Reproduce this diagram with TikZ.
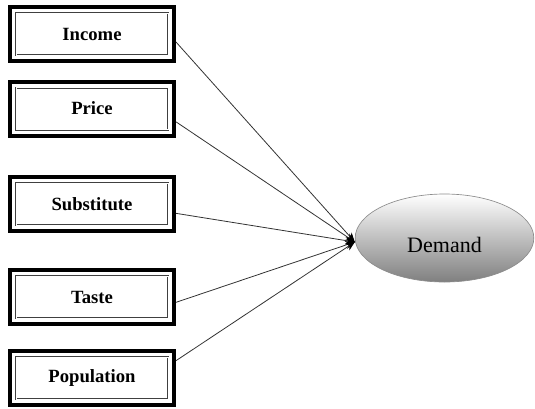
\documentclass[tikz,border=0pt]{standalone}
\usepackage{fontspec}
\setmainfont{Liberation Serif}
\usetikzlibrary{shapes.geometric,arrows.meta}
\tikzset{
  factor/.style={draw=black,line width=3pt,fill=white,minimum width=123pt,minimum height=40.5pt,inner sep=0pt,font=\fontsize{14}{16}\selectfont\bfseries,
    path picture={\draw[black!75,line width=0.45pt,double,double distance=0.6pt] ([shift={(4.5pt,-4.5pt)}]path picture bounding box.north west) rectangle ([shift={(-4.5pt,4.5pt)}]path picture bounding box.south east);}},
  outcome/.style={ellipse,draw=black!45,line width=0.5pt,top color=white,bottom color=black!50,minimum width=134pt,minimum height=66pt,inner sep=0pt,font=\fontsize{16.5}{18}\selectfont},
  link/.style={draw=black!80,line width=0.6pt,-{Stealth[length=7pt,width=6pt,black]}}
}
\begin{document}
\begin{tikzpicture}[x=0.75pt,y=-0.75pt]
    \useasboundingbox (0,0) rectangle (535,408);
    \node[factor] (income) at (92,34) {Income};
    \node[factor] (price) at (92,108.5) {Price};
    \node[factor] (substitute) at (92,204) {Substitute};
    \node[factor] (taste) at (92,297) {Taste};
    \node[factor] (population) at (92,378) {Population};
    \node[outcome] (demand) at (444.5,238) {\smash{\raisebox{-11pt}{Demand}}};
    \draw[link] ([yshift=-6pt]income.east) -- ([yshift=-3pt]demand.west);
    \draw[link] ([yshift=-10pt]price.east) -- ([yshift=-3pt]demand.west);
    \draw[link] ([yshift=-7pt]substitute.east) -- ([yshift=-3pt]demand.west);
    \draw[link] ([yshift=-4pt]taste.east) -- ([yshift=-3pt]demand.west);
    \draw[link] ([yshift=13pt]population.east) -- ([yshift=-3pt]demand.west);
\end{tikzpicture}
\end{document}
